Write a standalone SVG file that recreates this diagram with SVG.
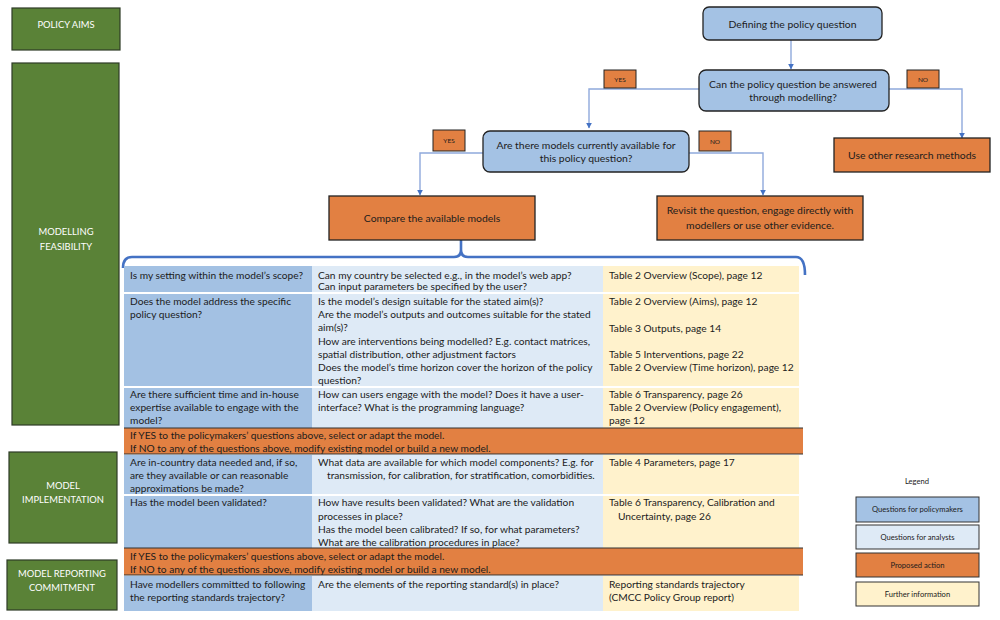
<svg xmlns="http://www.w3.org/2000/svg" width="1000" height="620" viewBox="0 0 1000 620">
<defs>
<style>
text{font-family:Lato,"Liberation Sans",Arial,sans-serif;fill:#1c1c1c;font-size:10.2px}
.side{fill:#5a8237;stroke:#2e3b26;stroke-width:1.2}
.st{fill:#ffffff;font-size:9.4px;text-anchor:middle}
.q{fill:#a4c2e4;stroke:#222;stroke-width:1.3}
.act{fill:#e28042;stroke:#222;stroke-width:1.3}
.lbl{fill:#e28042;stroke:#222;stroke-width:1}
.lt{font-size:6.5px;text-anchor:middle}
.c{text-anchor:middle;font-size:10.4px}
.conn{fill:none;stroke:#8fa9dc;stroke-width:1.4}
.brace{fill:none;stroke:#4472c4;stroke-width:2.6}
.pm{fill:#a3c1e3}
.an{fill:#deeaf6}
.fi{fill:#fff2cc}
.ora{fill:#e28042}
.sep{stroke:#333;stroke-width:1.2}
.leg{stroke:#333;stroke-width:1}
.legt{font-size:7.6px;text-anchor:middle}
</style>
<marker id="ah" viewBox="0 0 10 10" refX="9" refY="5" markerWidth="6" markerHeight="6" orient="auto" markerUnits="userSpaceOnUse">
<path d="M0,0 L10,5 L0,10 z" fill="#4472c4"/>
</marker>
</defs>
<rect width="1000" height="620" fill="#ffffff"/>

<g id="side-policy-aims"><rect class="side" x="12" y="8" width="108" height="42"/><text class="st" x="66" y="27.5">POLICY AIMS</text></g>
<g id="side-modelling-feasibility"><rect class="side" x="12" y="63" width="107" height="362"/><text class="st" x="66" y="234.5">MODELLING</text><text class="st" x="66" y="249.5">FEASIBILITY</text></g>
<g id="side-model-implementation"><rect class="side" x="9" y="452" width="108" height="91"/><text class="st" x="63" y="488.5">MODEL</text><text class="st" x="63" y="503">IMPLEMENTATION</text></g>
<g id="side-model-reporting"><rect class="side" x="7" y="560" width="110" height="50"/><text class="st" x="62" y="576.5">MODEL REPORTING</text><text class="st" x="62" y="590.5">COMMITMENT</text></g>

<g id="connectors">
<line class="conn" x1="791" y1="40" x2="791" y2="69" marker-end="url(#ah)"/>
<polyline class="conn" points="699,89 589,89 589,128" marker-end="url(#ah)"/>
<polyline class="conn" points="889,89 962,89 962,138" marker-end="url(#ah)"/>
<polyline class="conn" points="483,153 420,153 420,195" marker-end="url(#ah)"/>
<polyline class="conn" points="689,153 763,153 763,195" marker-end="url(#ah)"/>
<path class="brace" d="M461,240 L461,250 M123,268 Q123,257 132,257 L454,257 Q461,257 461,250 Q461,257 468,257 L796,257 Q805,257 805,275"/>
</g>

<g id="node-defining"><rect class="q" x="703" y="7" width="179" height="33" rx="6"/><text class="c" x="792.5" y="27.5">Defining the policy question</text></g>
<g id="node-can-answer"><rect class="q" x="699" y="70" width="190" height="41" rx="7"/><text class="c" x="793" y="87.5">Can the policy question be answered</text><text class="c" x="793" y="101">through modelling?</text></g>
<g id="label-yes-1"><rect class="lbl" x="604" y="70" width="32" height="18"/><text class="lt" x="620" y="81.5">YES</text></g>
<g id="label-no-1"><rect class="lbl" x="907" y="70" width="32" height="18"/><text class="lt" x="923" y="81.5">NO</text></g>
<g id="node-use-other"><rect class="act" x="834" y="138" width="156" height="34"/><text class="c" x="912" y="159">Use other research methods</text></g>
<g id="node-models-available"><rect class="q" x="483" y="131" width="206" height="41" rx="7"/><text class="c" x="586" y="149">Are there models currently available for</text><text class="c" x="586" y="162">this policy question?</text></g>
<g id="label-yes-2"><rect class="lbl" x="433" y="130" width="32" height="21"/><text class="lt" x="449" y="143">YES</text></g>
<g id="label-no-2"><rect class="lbl" x="699" y="131" width="32" height="20"/><text class="lt" x="715" y="143.5">NO</text></g>
<g id="node-compare"><rect class="act" x="329" y="196" width="206" height="44"/><text class="c" x="432" y="221.5">Compare the available models</text></g>
<g id="node-revisit"><rect class="act" x="657" y="196" width="206" height="44"/><text class="c" x="760" y="214">Revisit the question, engage directly with</text><text class="c" x="760" y="229">modellers or use other evidence.</text></g>

<g id="table">
<rect class="pm" x="124" y="266" width="188" height="26"/><rect class="an" x="312" y="266" width="291" height="26"/><rect class="fi" x="603" y="266" width="196" height="26"/>
<rect class="pm" x="124" y="294" width="188" height="92"/><rect class="an" x="312" y="294" width="291" height="92"/><rect class="fi" x="603" y="294" width="196" height="92"/>
<rect class="pm" x="124" y="388" width="188" height="40"/><rect class="an" x="312" y="388" width="291" height="40"/><rect class="fi" x="603" y="388" width="196" height="40"/>
<rect class="ora" x="124" y="428" width="679" height="26"/><line class="sep" x1="124" y1="428" x2="803" y2="428"/><line class="sep" x1="124" y1="454" x2="803" y2="454"/>
<rect class="pm" x="124" y="455" width="188" height="39"/><rect class="an" x="312" y="455" width="291" height="39"/><rect class="fi" x="603" y="455" width="196" height="39"/>
<rect class="pm" x="124" y="496" width="188" height="52"/><rect class="an" x="312" y="496" width="291" height="52"/><rect class="fi" x="603" y="496" width="196" height="52"/>
<rect class="ora" x="124" y="548" width="679" height="27"/><line class="sep" x1="124" y1="548" x2="803" y2="548"/><line class="sep" x1="124" y1="575" x2="803" y2="575"/>
<rect class="pm" x="124" y="576" width="188" height="35"/><rect class="an" x="312" y="576" width="291" height="35"/><rect class="fi" x="603" y="576" width="196" height="35"/>

<text x="130" y="278.5">Is my setting within the model’s scope?</text>
<text x="318" y="278.5">Can my country be selected e.g., in the model’s web app?</text>
<text x="318" y="290">Can input parameters be specified by the user?</text>
<text x="609" y="278.5">Table 2 Overview (Scope), page 12</text>

<text x="130" y="305">Does the model address the specific</text>
<text x="130" y="317.5">policy question?</text>
<text x="318" y="305">Is the model’s design suitable for the stated aim(s)?</text>
<text x="318" y="317.5">Are the model’s outputs and outcomes suitable for the stated</text>
<text x="318" y="331">aim(s)?</text>
<text x="318" y="344.5">How are interventions being modelled? E.g. contact matrices,</text>
<text x="318" y="357.5">spatial distribution, other adjustment factors</text>
<text x="318" y="371">Does the model’s time horizon cover the horizon of the policy</text>
<text x="318" y="384">question?</text>
<text x="609" y="305">Table 2 Overview (Aims), page 12</text>
<text x="609" y="331.5">Table 3 Outputs, page 14</text>
<text x="609" y="357.5">Table 5 Interventions, page 22</text>
<text x="609" y="371">Table 2 Overview (Time horizon), page 12</text>

<text x="130" y="397.5">Are there sufficient time and in-house</text>
<text x="130" y="411">expertise available to engage with the</text>
<text x="130" y="424">model?</text>
<text x="318" y="397.5">How can users engage with the model? Does it have a user-</text>
<text x="318" y="411">interface? What is the programming language?</text>
<text x="609" y="397.5">Table 6 Transparency, page 26</text>
<text x="609" y="411">Table 2 Overview (Policy engagement),</text>
<text x="609" y="424">page 12</text>

<text x="130" y="439">If YES to the policymakers’ questions above, select or adapt the model.</text>
<text x="130" y="452">If NO to any of the questions above, modify existing model or build a new model.</text>

<text x="130" y="466">Are in-country data needed and, if so,</text>
<text x="130" y="479">are they available or can reasonable</text>
<text x="130" y="492">approximations be made?</text>
<text x="318" y="466">What data are available for which model components? E.g. for</text>
<text x="327" y="479">transmission, for calibration, for stratification, comorbidities.</text>
<text x="609" y="466">Table 4 Parameters, page 17</text>

<text x="130" y="506">Has the model been validated?</text>
<text x="318" y="506">How have results been validated? What are the validation</text>
<text x="318" y="520">processes in place?</text>
<text x="318" y="532.5">Has the model been calibrated? If so, for what parameters?</text>
<text x="318" y="546">What are the calibration procedures in place?</text>
<text x="609" y="506">Table 6 Transparency, Calibration and</text>
<text x="618" y="520">Uncertainty, page 26</text>

<text x="130" y="559.5">If YES to the policymakers’ questions above, select or adapt the model.</text>
<text x="130" y="572.5">If NO to any of the questions above, modify existing model or build a new model.</text>

<text x="130" y="587.5">Have modellers committed to following</text>
<text x="130" y="600.5">the reporting standards trajectory?</text>
<text x="318" y="587.5">Are the elements of the reporting standard(s) in place?</text>
<text x="609" y="587.5">Reporting standards trajectory</text>
<text x="609" y="600.5">(CMCC Policy Group report)</text>
</g>

<g id="legend">
<text class="legt" x="917" y="483.5">Legend</text>
<rect class="leg" x="856" y="497" width="123" height="25" fill="#a4c2e4"/><text class="legt" x="917.5" y="512">Questions for policymakers</text>
<rect class="leg" x="856" y="525" width="123" height="24" fill="#deeaf6"/><text class="legt" x="917.5" y="539.5">Questions for analysts</text>
<rect class="leg" x="856" y="553" width="123" height="24" fill="#e28042"/><text class="legt" x="917.5" y="567.5">Proposed action</text>
<rect class="leg" x="856" y="582" width="123" height="24" fill="#fff2cc"/><text class="legt" x="917.5" y="596.5">Further information</text>
</g>
</svg>
